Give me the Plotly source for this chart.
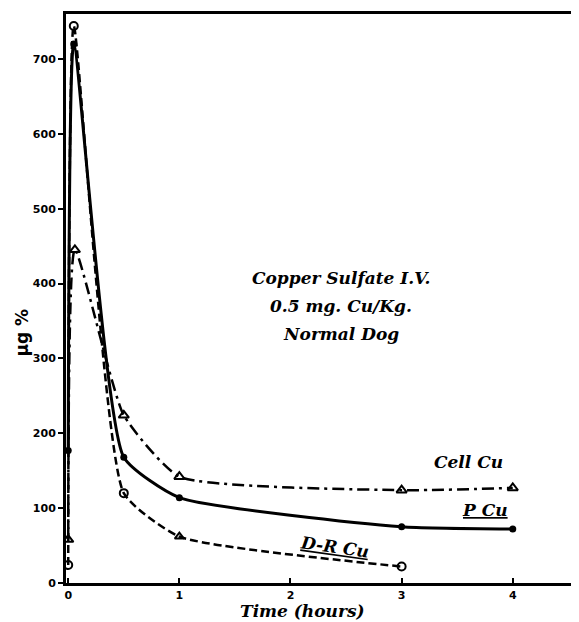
import plotly.graph_objects as go

# Data (time in hours, values in µg %)
t_p = [0, 0.05, 0.5, 1, 3, 4]
p_cu = [177, 720, 168, 114, 75, 72]

t_cell = [0, 0.06, 0.5, 1, 3, 4]
cell_cu = [58, 445, 224, 142, 124, 127]

t_dr = [0, 0.05, 0.5, 1, 3]
dr_cu = [24, 744, 120, 62, 22]
dr_symbols = ["circle-open", "circle-open", "circle-open", "triangle-up-open", "circle-open"]

x_ticks = [0, 1, 2, 3, 4]
y_ticks = [0, 100, 200, 300, 400, 500, 600, 700]

fig = go.Figure()

fig.add_trace(go.Scatter(
    x=t_cell, y=cell_cu, mode="lines+markers", name="Cell Cu",
    line=dict(color="black", width=2.5, dash="12px,5px,3px,5px", shape="spline", smoothing=0.5),
    marker=dict(symbol="triangle-up-open", size=9, color="black", line=dict(width=2)),
))
fig.add_trace(go.Scatter(
    x=t_p, y=p_cu, mode="lines+markers", name="P Cu",
    line=dict(color="black", width=3, shape="spline", smoothing=0.5),
    marker=dict(symbol="circle", size=7, color="black"),
))
fig.add_trace(go.Scatter(
    x=t_dr, y=dr_cu, mode="lines+markers", name="D-R Cu",
    line=dict(color="black", width=2.5, dash="8px,4px", shape="spline", smoothing=0.5),
    marker=dict(symbol=dr_symbols, size=8, color="black", line=dict(width=2)),
))

font_it = dict(family="DejaVu Serif", size=17, color="black", style="italic", weight="bold")

ann = [
    dict(x=2.45, y=408, text="Copper Sulfate I.V."),
    dict(x=2.45, y=370, text="0.5 mg. Cu/Kg."),
    dict(x=2.45, y=333, text="Normal Dog"),
    dict(x=3.6, y=162, text="Cell Cu"),
    dict(x=3.75, y=97, text="<u>P Cu</u>"),
    dict(x=2.4, y=48, text="<u>D-R Cu</u>", textangle=8),
]
for a in ann:
    fig.add_annotation(x=a["x"], y=a["y"], xref="x", yref="y", text=a["text"],
                       showarrow=False, font=font_it, textangle=a.get("textangle", 0))

# axis titles as annotations
fig.add_annotation(x=0.455, y=-0.05, xref="paper", yref="paper", yanchor="middle",
                   text="Time (hours)", showarrow=False,
                   font=dict(family="DejaVu Serif", size=17, color="black",
                             style="italic", weight="bold"))
fig.add_annotation(x=-0.108, y=0.44, xref="paper", yref="paper",
                   text="µg %", showarrow=False, textangle=-90,
                   font=dict(family="DejaVu Sans", size=17, color="black", weight="bold"))

axis_common = dict(
    showline=True, linecolor="black", linewidth=3, mirror=True, automargin=False,
    showgrid=False, zeroline=False, ticklen=5, tickwidth=2, tickcolor="black",
    tickfont=dict(family="DejaVu Sans", size=11, color="black", weight="bold"),
)

fig.update_layout(
    width=579, height=622,
    margin=dict(l=58, r=2, t=6, b=47),
    plot_bgcolor="white", paper_bgcolor="white",
    showlegend=False,
    xaxis=dict(range=[-0.02, 4.65], tickvals=x_ticks, ticktext=[str(v) for v in x_ticks],
               ticks="inside", **axis_common),
    yaxis=dict(range=[0, 760], tickvals=y_ticks, ticktext=[str(v) for v in y_ticks],
               ticks="outside", **axis_common),
)

fig.write_html("out.html")
